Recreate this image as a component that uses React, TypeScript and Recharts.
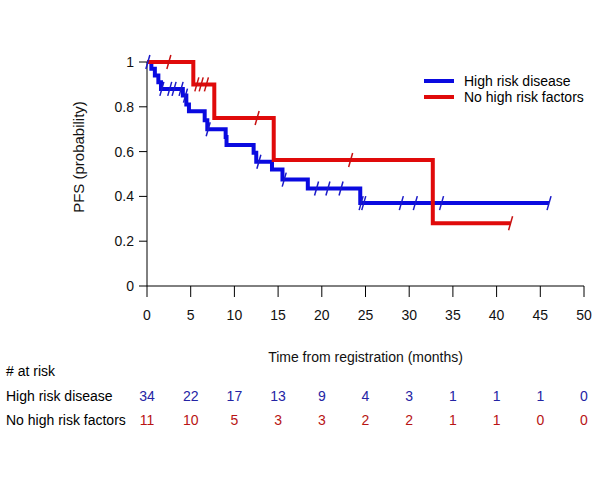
import { ComposedChart, Line, Scatter, XAxis, YAxis, Legend, Label } from 'recharts';

// axis ticks
const timeTicks = [0, 5, 10, 15, 20, 25, 30, 35, 40, 45, 50];
const survTicks = [0, 0.2, 0.4, 0.6, 0.8, 1];

// High risk disease: KM steps + censor marks
const highRiskTime = [0, 0.5, 0.9, 1.3, 1.6, 4.1, 4.5, 4.8, 6.6, 6.9, 9.0, 9.1, 12.2, 12.5, 14.3, 15.5, 18.4, 24.4, 46.0];
const highRiskSurv = [1, 0.97, 0.94, 0.91, 0.88, 0.85, 0.81, 0.78, 0.74, 0.7, 0.665, 0.63, 0.595, 0.555, 0.52, 0.475, 0.435, 0.37, 0.37];
const highRiskCensorTime = [0.1, 1.7, 2.6, 3.1, 3.9, 4.4, 7.0, 12.8, 15.7, 19.4, 20.7, 22.2, 24.5, 24.8, 29.1, 30.7, 33.7, 46.0];
const highRiskCensorSurv = [1, 0.88, 0.88, 0.88, 0.88, 0.85, 0.7, 0.555, 0.475, 0.435, 0.435, 0.435, 0.37, 0.37, 0.37, 0.37, 0.37, 0.37];

// No high risk factors
const noRiskTime = [0, 5.3, 7.7, 14.5, 32.7, 41.6];
const noRiskSurv = [1, 0.9, 0.75, 0.5625, 0.28, 0.28];
const noRiskCensorTime = [2.5, 5.7, 6.2, 6.8, 12.6, 23.3, 41.6];
const noRiskCensorSurv = [1, 0.9, 0.9, 0.9, 0.75, 0.5625, 0.28];

// numbers at risk under each time tick
const highRiskAtRisk = [34, 22, 17, 13, 9, 4, 3, 1, 1, 1, 0];
const noRiskAtRisk = [11, 10, 5, 3, 3, 2, 2, 1, 1, 0, 0];

const BLUE = '#0a0ae0';
const RED = '#e00a0a';
const BLUE_TXT = '#2424a4';
const RED_TXT = '#b81414';
const FS = 14;

const toPoints = (t: number[], s: number[]) => t.map((x, i) => ({ t: x, s: s[i] }));
// invisible anchor points so the risk-table axes get drawn
const tickAnchors = timeTicks.map((t) => ({ t, s: 0 }));

const censorShape = (color: string) => (props: any) => {
  const { cx, cy } = props;
  if (cx == null || cy == null) return null;
  return <line x1={cx - 2} y1={cy + 7} x2={cx + 2} y2={cy - 7} stroke={color} strokeWidth={1.5} />;
};

const riskTick = (values: number[], color: string) => (props: any) => {
  const { x, y, payload } = props;
  const v = values[timeTicks.indexOf(payload.value)];
  return (
    <text x={x} y={y} dy="0.71em" textAnchor="middle" fill={color} fontSize={FS}>
      {v}
    </text>
  );
};

const LegendContent = (props: any) => {
  const items = (props.payload || []).filter((p: any) => p.type !== 'none');
  return (
    <div>
      {items.map((p: any) => (
        <div key={p.value} style={{ display: 'flex', alignItems: 'center', height: 16, fontSize: FS, color: '#000' }}>
          <span style={{ display: 'inline-block', width: 30, height: 4, background: p.color, marginRight: 10 }} />
          {p.value}
        </div>
      ))}
    </div>
  );
};

const rowLabel = { position: 'absolute' as const, left: 6, fontSize: FS, lineHeight: '16px', color: '#000' };

export default function App() {
  return (
    <div style={{ position: 'absolute', left: 0, top: 0, width: 600, height: 480, background: '#fff', fontFamily: '"Liberation Sans", Arial, sans-serif' }}>
      <ComposedChart width={600} height={480} margin={{ top: 62, right: 16, bottom: 41, left: 0 }}>
        <XAxis
          dataKey="t"
          type="number"
          domain={[0, 50]}
          ticks={timeTicks}
          interval={0}
          height={105}
          tickSize={11}
          tickMargin={13}
          stroke="#000"
          tick={{ fill: '#111', fontSize: FS }}
        >
          <Label
            content={(p: any) => {
              const vb = p.viewBox || {};
              return (
                <text x={vb.x + vb.width / 2} y={vb.y + 76} textAnchor="middle" fontSize={FS} fill="#111">
                  Time from registration (months)
                </text>
              );
            }}
          />
        </XAxis>
        <XAxis
          xAxisId="hr"
          dataKey="t"
          type="number"
          domain={[0, 50]}
          ticks={timeTicks}
          interval={0}
          height={24}
          axisLine={false}
          tickLine={false}
          tickSize={0}
          tickMargin={0}
          tick={riskTick(highRiskAtRisk, BLUE_TXT)}
        />
        <XAxis
          xAxisId="nr"
          dataKey="t"
          type="number"
          domain={[0, 50]}
          ticks={timeTicks}
          interval={0}
          height={24}
          axisLine={false}
          tickLine={false}
          tickSize={0}
          tickMargin={0}
          tick={riskTick(noRiskAtRisk, RED_TXT)}
        />
        <YAxis
          dataKey="s"
          type="number"
          domain={[0, 1]}
          ticks={survTicks}
          interval={0}
          width={147}
          tickSize={8}
          tickMargin={5}
          stroke="#000"
          tick={{ fill: '#111', fontSize: FS }}
        >
          <Label
            content={(p: any) => {
              const vb = p.viewBox || {};
              const cx = 78;
              const cy = vb.y + vb.height / 2 - 17;
              return (
                <text x={cx} y={cy} transform={`rotate(-90, ${cx}, ${cy})`} textAnchor="middle" dominantBaseline="central" fontSize={15} fill="#111">
                  PFS (probability)
                </text>
              );
            }}
          />
        </YAxis>
        <Legend
          layout="vertical"
          align="center"
          verticalAlign="middle"
          wrapperStyle={{ left: 424, top: 73, width: 176 }}
          content={LegendContent}
        />
        <Line xAxisId="hr" data={tickAnchors} dataKey="s" stroke="none" dot={false} activeDot={false} legendType="none" isAnimationActive={false} />
        <Line xAxisId="nr" data={tickAnchors} dataKey="s" stroke="none" dot={false} activeDot={false} legendType="none" isAnimationActive={false} />
        <Line
          name="High risk disease"
          data={toPoints(highRiskTime, highRiskSurv)}
          dataKey="s"
          type="stepAfter"
          stroke={BLUE}
          strokeWidth={4}
          dot={false}
          activeDot={false}
          isAnimationActive={false}
        />
        <Line
          name="No high risk factors"
          data={toPoints(noRiskTime, noRiskSurv)}
          dataKey="s"
          type="stepAfter"
          stroke={RED}
          strokeWidth={4}
          dot={false}
          activeDot={false}
          isAnimationActive={false}
        />
        <Scatter
          data={toPoints(highRiskCensorTime, highRiskCensorSurv)}
          dataKey="s"
          legendType="none"
          shape={censorShape('#1a1ac8')}
          isAnimationActive={false}
        />
        <Scatter
          data={toPoints(noRiskCensorTime, noRiskCensorSurv)}
          dataKey="s"
          legendType="none"
          shape={censorShape('#c81010')}
          isAnimationActive={false}
        />
      </ComposedChart>
      <div style={{ ...rowLabel, top: 363 }}># at risk</div>
      <div style={{ ...rowLabel, top: 388 }}>High risk disease</div>
      <div style={{ ...rowLabel, top: 412 }}>No high risk factors</div>
    </div>
  );
}
